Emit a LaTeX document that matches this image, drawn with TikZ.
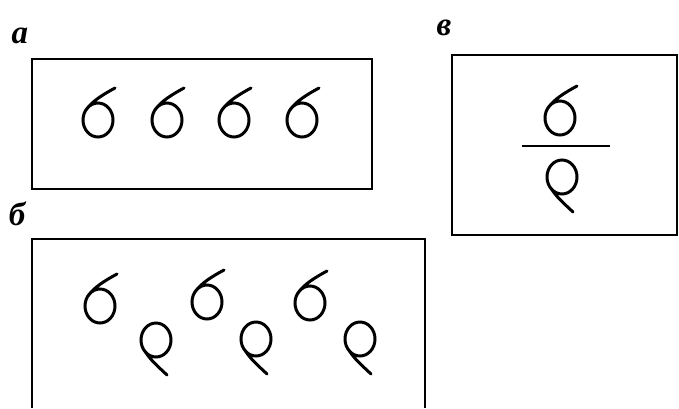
\documentclass[tikz,border=0pt]{standalone}
\usepackage{fontspec}
\newfontfamily\cyrfont{Liberation Serif}
\tikzset{
  frame/.style={line width=1.7pt},
  pen/.style={line width=3pt,line cap=round},
  lbl/.style={font=\cyrfont\bfseries\itshape\fontsize{33}{33}\selectfont,inner sep=0pt},
  six/.pic={\draw[pen] (0,0) ellipse (15 and 17)
    (-12,-10) .. controls (-6,-19) and (6,-26) .. (17,-32);},
  flipsix/.pic={\draw[pen] (0,0) ellipse (15 and 17)
    (-12,10) .. controls (-5,20) .. (11,35);}
}
\begin{document}
\begin{tikzpicture}[x=1pt,y=-1pt]
\useasboundingbox (0,0) rectangle (679,408);
% box a
\node[lbl] (la) at (20,36) {а};
\draw[frame] (32,59) rectangle (372,189);
\foreach \cx [count=\i] in {98,167,234,302}
  \pic (a\i) at (\cx,120) {six};
% box v
\node[lbl] (lv) at (444,28) {в};
\draw[frame] (452,55) rectangle (677,235);
\pic (v1) at (560,118) {six};
\draw[line width=1.4pt] (522,146) -- (610,146);
\pic (v2) at (562,177) {flipsix};
% box b, cut at the bottom
\node[lbl] (lb) at (17,214) {б};
\draw[frame] (32,408) -- (32,239) -- (425,239) -- (425,408);
\pic (b1) at (100,306) {six};
\pic (b2) at (207,302) {six};
\pic (b3) at (310,303) {six};
\pic (b4) at (156,340) {flipsix};
\pic (b5) at (256,339) {flipsix};
\pic (b6) at (360,339) {flipsix};
\end{tikzpicture}
\end{document}
